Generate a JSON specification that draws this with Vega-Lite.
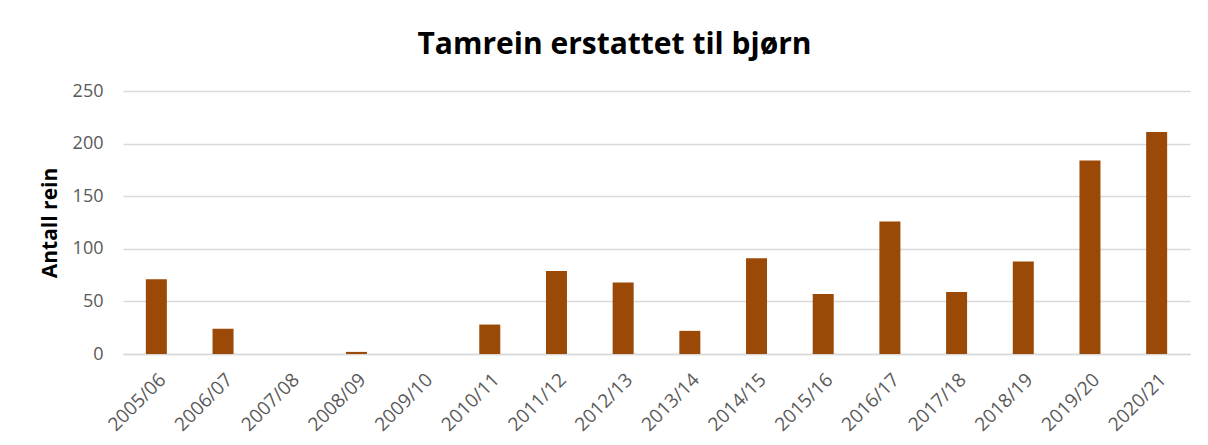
{
  "$schema": "https://vega.github.io/schema/vega-lite/v6.json",
  "width": 1067,
  "height": 263,
  "autosize": {"type": "none"},
  "padding": {"left": 123, "top": 91, "right": 18, "bottom": 91},
  "background": "white",
  "title": {
    "text": "Tamrein erstattet til bjørn",
    "font": "Open Sans",
    "fontSize": 30,
    "fontWeight": "bold",
    "color": "#000000",
    "anchor": "middle",
    "dx": -42,
    "offset": 22
  },
  "data": {
    "values": [
      {"season": "2005/06", "rein": 71},
      {"season": "2006/07", "rein": 24},
      {"season": "2007/08", "rein": 0},
      {"season": "2008/09", "rein": 2},
      {"season": "2009/10", "rein": 0},
      {"season": "2010/11", "rein": 28},
      {"season": "2011/12", "rein": 79},
      {"season": "2012/13", "rein": 68},
      {"season": "2013/14", "rein": 22},
      {"season": "2014/15", "rein": 91},
      {"season": "2015/16", "rein": 57},
      {"season": "2016/17", "rein": 126},
      {"season": "2017/18", "rein": 59},
      {"season": "2018/19", "rein": 88},
      {"season": "2019/20", "rein": 184},
      {"season": "2020/21", "rein": 211}
    ]
  },
  "mark": {"type": "bar", "color": "#9B4907"},
  "encoding": {
    "x": {
      "field": "season",
      "type": "ordinal",
      "sort": null,
      "scale": {"paddingInner": 0.685, "paddingOuter": 0.3425},
      "axis": {
        "title": null,
        "labelAngle": -45,
        "labelFont": "Open Sans",
        "labelFontSize": 19,
        "labelColor": "#595959",
        "labelPadding": 16,
        "ticks": false,
        "domainColor": "#d9d9d9",
        "domainWidth": 1.5,
        "grid": false
      }
    },
    "y": {
      "field": "rein",
      "type": "quantitative",
      "scale": {"domain": [0, 250], "nice": false},
      "axis": {
        "title": "Antall rein",
        "titleFont": "Open Sans",
        "titleFontSize": 21,
        "titleFontWeight": "bold",
        "titleColor": "#000000",
        "titlePadding": 12,
        "values": [0, 50, 100, 150, 200, 250],
        "labelFont": "Open Sans",
        "labelFontSize": 18,
        "labelColor": "#595959",
        "labelPadding": 20,
        "ticks": false,
        "domain": false,
        "grid": true,
        "gridColor": "#d9d9d9",
        "gridWidth": 1.5
      }
    }
  },
  "config": {"view": {"stroke": null}}
}
